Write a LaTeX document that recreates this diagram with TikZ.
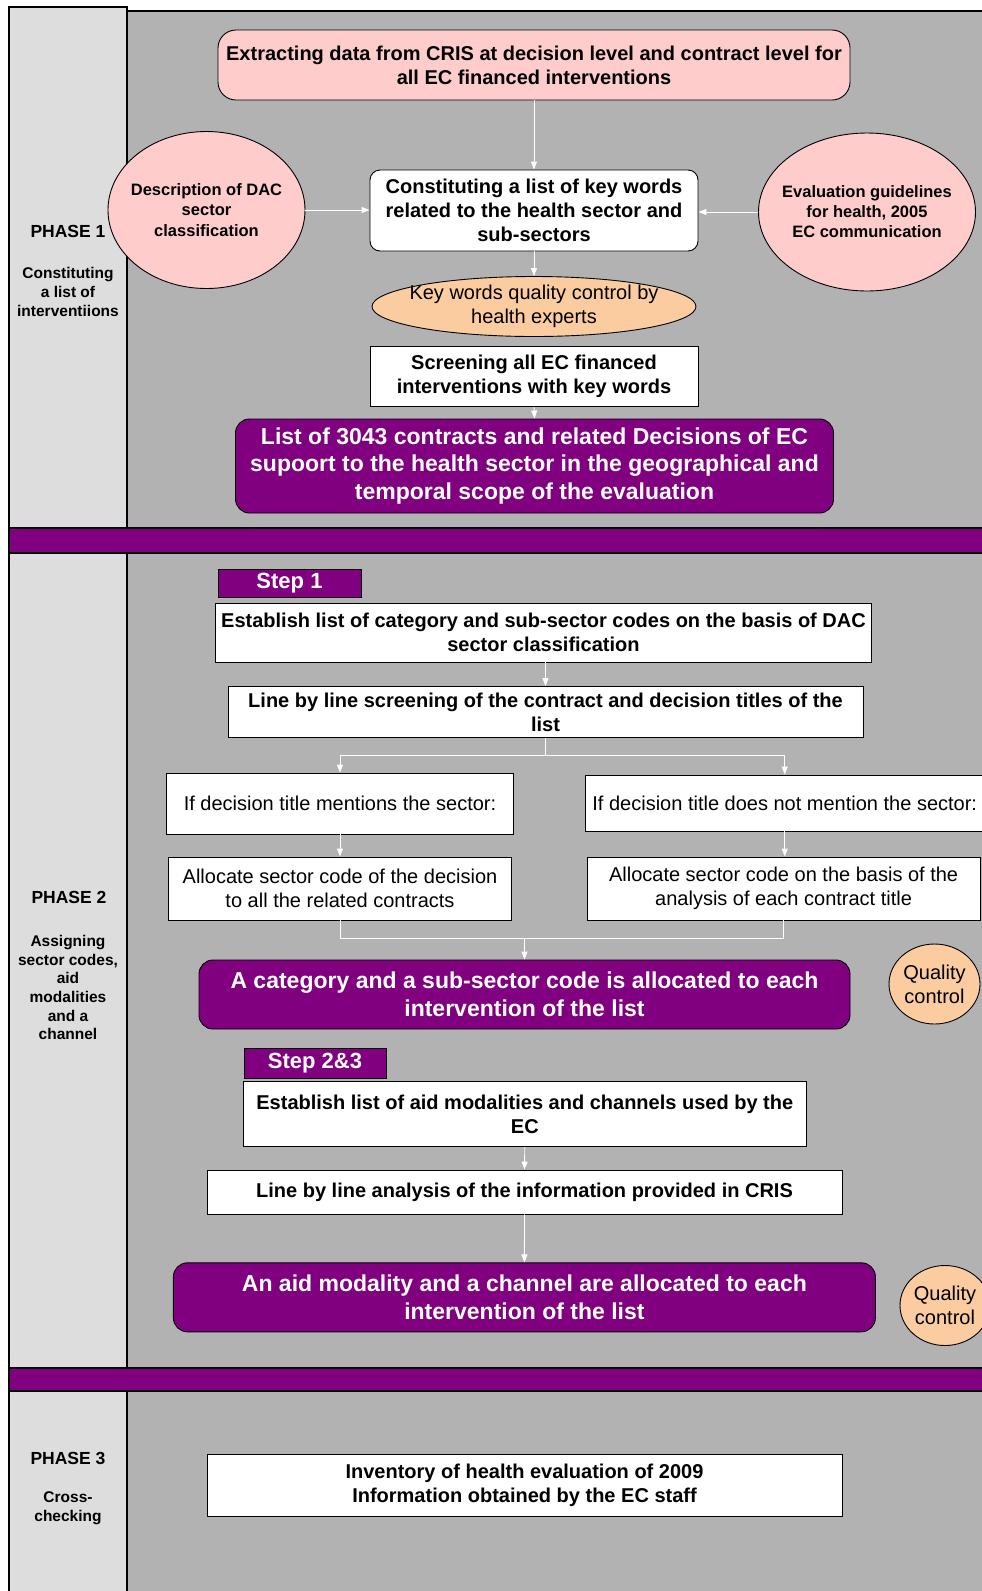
\documentclass[tikz,border=0pt]{standalone}
\usepackage{fontspec}
\setmainfont{Liberation Sans}
\usetikzlibrary{shapes.geometric,arrows.meta}
\definecolor{pgray}{RGB}{178,178,178}
\definecolor{lgray}{RGB}{221,221,221}
\definecolor{ppl}{RGB}{128,0,128}
\definecolor{mypink}{RGB}{255,204,204}
\definecolor{peach}{RGB}{250,204,160}
\newcommand{\fsz}[2]{\fontsize{#1}{#2}\selectfont}
\begin{document}
\begin{tikzpicture}[x=1pt,y=-1pt,
  box/.style={draw=black, line width=0.9pt, fill=white, inner sep=0pt, align=center, font=\bfseries\fsz{20}{23.8}},
  rbox/.style={box, rounded corners=10pt},
  pbox/.style={draw=black, line width=0.9pt, fill=ppl, text=white, rounded corners=14pt, inner sep=0pt, align=center, font=\bfseries\fsz{23}{27.8}},
  ell/.style={ellipse, draw=black, line width=0.9pt, inner sep=0pt, align=center},
  etext/.style={inner sep=0pt, align=center},
  arr/.style={draw=white, line width=0.9pt, -{Triangle[length=8pt,width=6pt]}},
  ln/.style={draw=white, line width=0.9pt},
  steplbl/.style={draw=black, line width=0.9pt, fill=ppl, text=white, inner sep=0pt, font=\bfseries\fsz{22}{26}},
  phase/.style={font=\bfseries\fsz{17.5}{21}, align=center},
  phdesc/.style={font=\bfseries\fsz{15.5}{18.7}, align=center}
]
\useasboundingbox (0,0) rectangle (982,1591);
\fill[white] (0,0) rectangle (982,1591);
% backgrounds
\path[fill=pgray, draw=black, line width=2pt] (127,11) rectangle (995,1605);
\path[fill=lgray, draw=black, line width=2pt] (9,7) rectangle (127,1605);
\path[fill=ppl, draw=black, line width=2pt] (9,528) rectangle (995,553);
\path[fill=ppl, draw=black, line width=2pt] (9,1368) rectangle (995,1391);

% left column labels
\node[phase] (ph1) at (68,231) {PHASE 1};
\node[phdesc] (ph1d) at (68,292) {Constituting\\a list of\\interventiions};
\node[phase] (ph2) at (69,897) {PHASE 2};
\node[phdesc] (ph2d) at (68,987.5) {Assigning\\sector codes,\\aid\\modalities\\and a\\channel};
\node[phase] (ph3) at (68,1458) {PHASE 3};
\node[phdesc] (ph3d) at (68,1508) {Cross-\\checking};

% Phase 1
\node[rbox, fill=mypink, rounded corners=18pt, minimum width=632pt, minimum height=70pt] (top) at (534,65)
  {Extracting data from CRIS at decision level and contract level for\\all EC financed interventions};
\node[rbox, minimum width=328pt, minimum height=81pt] (cons) at (534,210.5)
  {Constituting a list of key words\\related to the health  sector and\\sub-sectors};
\node[ell, fill=mypink, minimum width=197pt, minimum height=157pt] (dac) at (206.5,210) {};
\node[etext, font=\bfseries\fsz{16.5}{20.3}] (dact) at (dac.center) {Description of DAC\\sector\\classification};
\node[ell, fill=mypink, minimum width=217pt, minimum height=158pt] (eval) at (867,212) {};
\node[etext, font=\bfseries\fsz{16.5}{20}] (evalt) at (eval.center) {Evaluation guidelines\\for health, 2005\\EC communication};
\node[ell, fill=peach, minimum width=324pt, minimum height=60pt] (kw) at (534,306.5) {};
\node[etext, font=\fsz{20}{23.7}] (kwt) at (kw.center) {Key words quality control by\\health experts};
\node[box, minimum width=328pt, minimum height=60pt, font=\bfseries\fsz{20}{24.3}] (scr) at (534,376.5)
  {Screening all EC financed\\interventions with key words};
\node[pbox, minimum width=598pt, minimum height=94pt] (list) at (534.5,466)
  {List of 3043  contracts and related Decisions of EC\\supoort to the health sector in the geographical and\\temporal scope of the evaluation};

\draw[arr] (top.south) -- (cons.north);
\draw[arr] (dac.east) -- (dac.east -| cons.west);
\draw[arr] (eval.west) -- (eval.west -| cons.east);
\draw[arr] (cons.south) -- (kw.north);
\draw[arr] (scr.south) -- (list.north);

% Phase 2
\node[steplbl, minimum width=143pt, minimum height=28pt] (s1) at (289.5,583) {Step 1};
\node[box, minimum width=656pt, minimum height=59pt] (est) at (543.5,632.5)
  {Establish list of category and sub-sector codes on the basis of DAC\\sector classification};
\node[box, minimum width=635pt, minimum height=51pt] (lbl) at (545.5,712)
  {Line by line screening of the contract and decision titles of the\\list};
\node[box, font=\fsz{20}{23.8}, minimum width=347pt, minimum height=61pt] (ifl) at (340,803.5)
  {If decision title mentions the sector:};
\node[box, font=\fsz{20}{23.8}, minimum width=398.5pt, minimum height=56pt] (ifr) at (784.75,803)
  {If decision title does not mention the sector:};
\node[box, font=\fsz{20}{23.8}, minimum width=343pt, minimum height=63pt] (all) at (340,888.5)
  {Allocate sector code of the decision\\to all the related contracts};
\node[box, font=\fsz{20}{23.8}, minimum width=392.7pt, minimum height=63pt] (alr) at (783.6,888.5)
  {Allocate sector code on the basis of the\\analysis of each contract title};
\node[pbox, minimum width=651pt, minimum height=69pt] (cat) at (524.5,994.5)
  {A category and a sub-sector code is allocated to each\\intervention of the list};
\node[ell, fill=peach, minimum width=91pt, minimum height=80pt] (qc1) at (934.5,984) {};
\node[etext, font=\fsz{20}{23.8}] (qc1t) at (qc1.center) {Quality\\control};

\coordinate (j1) at (545.5,755);
\coordinate (j2) at (524.5,938);
\draw[arr] (lbl.north |- est.south) -- (lbl.north);
\draw[ln] (lbl.south) -- (j1);
\draw[arr] (j1) -| (ifl.north);
\draw[arr] (j1) -| (ifr.north);
\draw[arr] (ifl.south) -- (all.north);
\draw[arr] (ifr.south) -- (ifr.south |- alr.north);
\draw[ln] (all.south) |- (j2);
\draw[ln] (alr.south) |- (j2);
\draw[arr] (j2) -- (cat.north);

\node[steplbl, minimum width=142pt, minimum height=30pt] (s23) at (315,1063) {Step 2\&3};
\node[box, minimum width=562.4pt, minimum height=65pt] (eam) at (524.8,1114.2)
  {Establish list of aid modalities and channels used by the\\EC};
\node[box, minimum width=635pt, minimum height=44pt] (lba) at (524.5,1192)
  {Line by line analysis of the information provided in CRIS};
\node[pbox, minimum width=702pt, minimum height=69pt] (aid) at (524.4,1297.3)
  {An aid modality and a channel are allocated to each\\intervention of the list};
\node[ell, fill=peach, minimum width=90pt, minimum height=80pt] (qc2) at (945,1305.5) {};
\node[etext, font=\fsz{20}{23.8}] (qc2t) at (qc2.center) {Quality\\control};

\draw[arr] (eam.south) -- (lba.north);
\draw[arr] (lba.south) -- (aid.north);

% Phase 3
\node[box, minimum width=635pt, minimum height=62pt] (inv) at (524.5,1485)
  {Inventory of health evaluation of 2009\\Information obtained by the EC staff};
\end{tikzpicture}
\end{document}
